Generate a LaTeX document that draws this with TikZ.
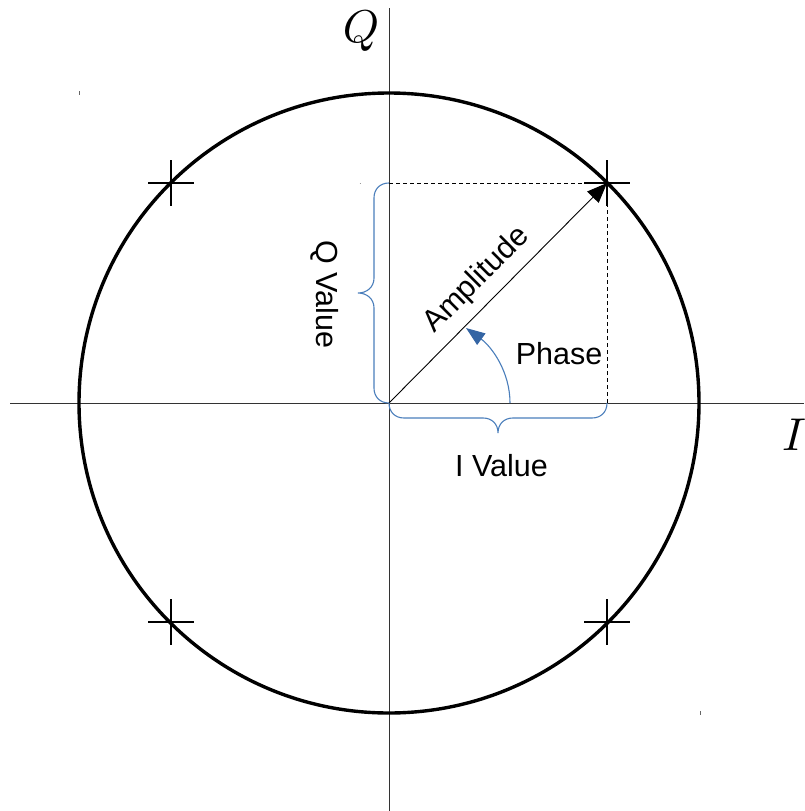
\documentclass[tikz,border=0pt]{standalone}
\usepackage{fontspec}
\setmainfont{Liberation Sans}
\usetikzlibrary{arrows.meta}
\definecolor{braceblue}{HTML}{4A7EBB}
\definecolor{tipblue}{HTML}{3465A4}
\begin{document}
\begin{tikzpicture}[x=1pt,y=-1pt,
  axis/.style={line width=1pt,draw=black!80},
  crossline/.style={line width=2.2pt},
  bracestyle/.style={draw=braceblue,line width=1.1pt},
  lbl/.style={inner sep=0pt,font=\fontsize{30.5}{36}\selectfont},
  axlbl/.style={inner sep=0pt},
  guide/.style={dashed,dash pattern=on 4pt off 3pt,line width=0.8pt}]
\useasboundingbox (0,0) rectangle (804,811);
\coordinate (O) at (389,403);
\coordinate (Ileft) at (10,403);
\coordinate (Iright) at (804,403);
\coordinate (Qtop) at (389,8);
\coordinate (Qbot) at (389,811);
\coordinate (P) at (607,183);
\coordinate (Qv) at (389,183);
\coordinate (Iv) at (607,403);
% axes
\draw[axis] (Ileft) -- (Iright);
\draw[axis] (Qbot) -- (Qtop);
% circle
\draw[line width=3.4pt] (O) circle[radius=310pt];
% crosses
\foreach \cx/\cy in {607/183,171/183,171/622,607/622}{
  \draw[crossline] (\cx-23,\cy) -- (\cx+23,\cy);
  \draw[crossline] (\cx,\cy-23) -- (\cx,\cy+23);
}
% tiny marks
\draw[black!60,line width=1pt] (79,91) -- (79,95);
\draw[black!60,line width=1pt] (700,711) -- (700,715);
\draw[black!40,line width=0.8pt] (359.5,183) -- (361,183);
% guides
\draw[guide] (Qv) -- (P) -- (Iv);
% amplitude arrow
\draw[line width=0.9pt,-{Triangle[length=20pt,width=16pt]}] (O) -- (P);
% phase arrow
\coordinate (ph0) at (510,403);
\coordinate (ph1) at (466,328);
\draw[draw=braceblue,line width=1.1pt,-{Triangle[length=19pt,width=14pt,fill=tipblue,color=tipblue]}]
  (ph0) .. controls (510,372) and (492,347) .. (ph1);
% Q brace
\draw[bracestyle] (Qv) .. controls (380,183) and (374,189) .. (374,198) -- (374,278)
  .. controls (374,287) and (367,293) .. (358,293)
  .. controls (367,293) and (374,299) .. (374,308) -- (374,388)
  .. controls (374,397) and (380,403) .. (O);
% I brace
\draw[bracestyle] (O) .. controls (389,412) and (395,418) .. (404,418) -- (483,418)
  .. controls (492,418) and (498,424) .. (498,433)
  .. controls (498,424) and (504,418) .. (513,418) -- (592,418)
  .. controls (601,418) and (607,412) .. (Iv);
% labels
\node[lbl] (phase) at (559,354) {Phase};
\node[lbl] (ival) at (501.5,466) {I Value};
\node[lbl,rotate=-90] (qval) at (325,294) {Q Value};
\node[lbl,rotate=45] (amp) at (477,280) {Amplitude};
\node[axlbl] (qlab) at (361,31) {\scalebox{4.6}{$Q$}};
\node[axlbl] (ilab) at (794,435) {\scalebox{4.6}{$I$}};
\end{tikzpicture}
\end{document}
